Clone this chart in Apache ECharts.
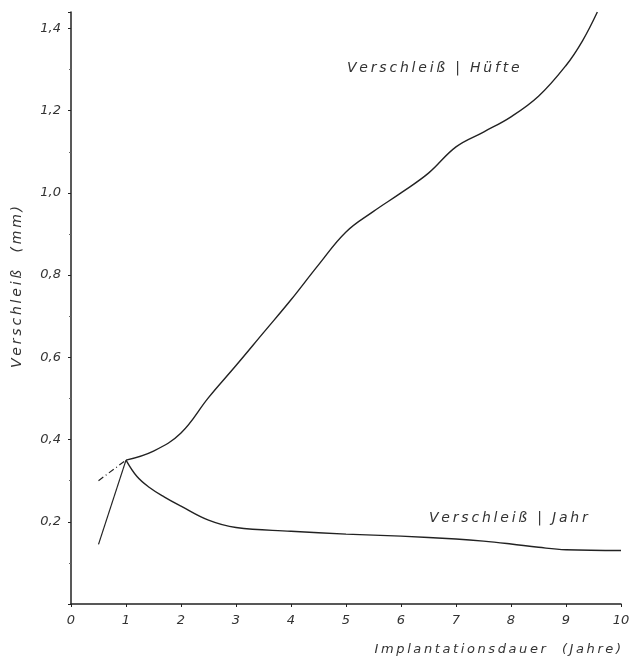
<!DOCTYPE html>
<html>
<head>
<meta charset="utf-8">
<script src="https://cdn.jsdelivr.net/npm/echarts@6/dist/echarts.min.js"></script>
<style>html,body{margin:0;padding:0;background:#fff;}#c{width:635px;height:664px;}</style>
</head>
<body>
<div id="c"></div>
<script>
// Data
var hipX = [1, 1.5, 2, 2.5, 3, 3.5, 4, 4.5, 5, 5.5, 6, 6.5, 7, 7.5, 8, 8.5, 9, 9.3, 9.57];
var hipY = [0.35, 0.372, 0.416, 0.502, 0.58, 0.66, 0.74, 0.825, 0.905, 0.955, 1.0, 1.048, 1.112, 1.148, 1.185, 1.235, 1.31, 1.37, 1.44];
var yearX = [1, 1.2, 1.42, 1.7, 2, 2.5, 3, 4, 5, 6, 7, 7.5, 8, 8.5, 9, 10];
var yearY = [0.35, 0.31, 0.284, 0.26, 0.238, 0.204, 0.186, 0.177, 0.170, 0.165, 0.158, 0.153, 0.146, 0.138, 0.132, 0.130];
var startSolidX = [0.5, 1];
var startSolidY = [0.145, 0.35];
var startDashX = [0.5, 1];
var startDashY = [0.30, 0.35];
var xTicks = [0, 1, 2, 3, 4, 5, 6, 7, 8, 9, 10];
var yTickLabels = ['0,2', '0,4', '0,6', '0,8', '1,0', '1,2', '1,4'];

function zip(xs, ys) { return xs.map(function (x, i) { return [x, ys[i]]; }); }
function spaced(s) { return s.split('').join('\u2009'); }

var ink = '#222';
var txt = '#333';
var font = 'DejaVu Sans';

var chart = echarts.init(document.getElementById('c'));
chart.setOption({
  animation: false,
  backgroundColor: '#fff',
  grid: { left: 71, right: 14, top: 12, bottom: 60 },
  xAxis: {
    type: 'value', min: 0, max: 10, interval: 1,
    axisLine: { lineStyle: { color: ink, width: 1.5 } },
    axisTick: { length: 3, lineStyle: { color: ink } },
    splitLine: { show: false },
    axisLabel: {
      margin: 10, color: txt, fontStyle: 'italic', fontFamily: font, fontSize: 13,
      formatter: function (v) { return xTicks.indexOf(v) >= 0 ? String(v) : ''; }
    }
  },
  yAxis: {
    type: 'value', min: 0, max: 1.44, interval: 0.2,
    axisLine: { show: true, lineStyle: { color: ink, width: 1.5 } },
    axisTick: { show: true, length: 3, lineStyle: { color: ink } },
    minorTick: { show: true, splitNumber: 2, length: 2, lineStyle: { color: '#666' } },
    splitLine: { show: false },
    axisLabel: {
      margin: 10, color: txt, fontStyle: 'italic', fontFamily: font, fontSize: 13,
      showMaxLabel: false,
      formatter: function (v) {
        var k = Math.round(v / 0.2);
        if (Math.abs(v - k * 0.2) > 1e-6 || k < 1) return '';
        return yTickLabels[k - 1] || '';
      }
    }
  },
  series: [
    { type: 'line', data: zip(hipX, hipY), smooth: 0.4, symbol: 'none', clip: true,
      lineStyle: { color: ink, width: 1.4 } },
    { type: 'line', data: zip(yearX, yearY), smooth: 0.4, symbol: 'none',
      lineStyle: { color: ink, width: 1.4 } },
    { type: 'line', data: zip(startSolidX, startSolidY), symbol: 'none',
      lineStyle: { color: ink, width: 1.2 } },
    { type: 'line', data: zip(startDashX, startDashY), symbol: 'none',
      lineStyle: { color: ink, width: 1.2, type: [6, 3, 1, 3] } }
  ],
  graphic: [
    { type: 'text', left: 347, top: 61,
      style: { text: spaced('Verschleiß | Hüfte'), fill: txt, font: 'italic 14px "DejaVu Sans"' } },
    { type: 'text', left: 429, top: 511,
      style: { text: spaced('Verschleiß | Jahr'), fill: txt, font: 'italic 14px "DejaVu Sans"' } },
    { type: 'text', right: 14, top: 643,
      style: { text: spaced('Implantationsdauer  (Jahre)'), fill: txt, font: 'italic 13px "DejaVu Sans"' } },
    { type: 'text', x: 10, y: 368, rotation: Math.PI / 2,
      style: { text: spaced('Verschleiß  (mm)'), fill: txt, font: 'italic 14px "DejaVu Sans"' } }
  ]
});
</script>
</body>
</html>
